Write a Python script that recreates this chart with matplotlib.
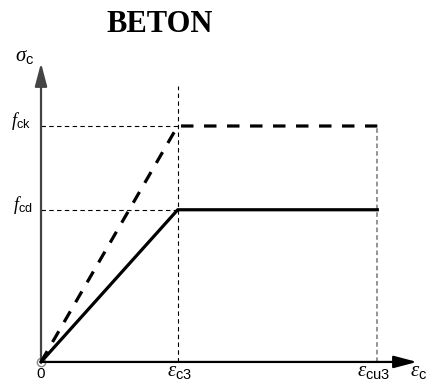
import matplotlib
matplotlib.use("Agg")
import matplotlib.pyplot as plt

# schematic concrete stress-strain diagram (EC2 bilinear)
strain_pts = [0.0, 1.0, 2.46]          # 0, eps_c3, eps_cu3
fck = 1.0
fcd = 0.645
strain_ticks = ["$0$", r"$\varepsilon_{\mathsf{c3}}$", r"$\varepsilon_{\mathsf{cu3}}$"]
stress_ticks = [r"$f_{\mathsf{ck}}$", r"$f_{\mathsf{cd}}$"]

plt.rcParams["mathtext.fontset"] = "custom"
plt.rcParams["mathtext.it"] = "Liberation Serif:italic"
plt.rcParams["mathtext.rm"] = "Liberation Sans"
plt.rcParams["mathtext.sf"] = "Liberation Sans"

fig = plt.figure(figsize=(4.26, 3.82), dpi=100)
ax = fig.add_axes([0, 0, 1, 1])
ax.set_xlim(-0.300, 2.816)
ax.set_ylim(-0.085, 1.534)
ax.axis("off")

eps0, eps_c3, eps_cu3 = strain_pts

# axes with arrows
arr = dict(arrowstyle="-|>,head_length=1.4,head_width=0.37", mutation_scale=10,
           shrinkA=0, shrinkB=0)
ax.annotate("", xy=(2.75, 0), xytext=(0, 0),
            arrowprops=dict(arr, color="black", lw=1.6))
ax.annotate("", xy=(0, 1.267), xytext=(0, 0),
            arrowprops=dict(arr, color="#444444", lw=1.6))
ax.plot([0], [0], "o", ms=6, mfc="white", mec="#888888", mew=1, zorder=1)

# guide lines
thin = dict(color="black", lw=0.8, dashes=(4, 3))
ax.plot([0, eps_c3], [fck, fck], **thin)
ax.plot([0, eps_c3], [fcd, fcd], **thin)
ax.plot([eps_c3, eps_c3], [0, 1.17], **thin)
ax.plot([eps_cu3, eps_cu3], [0, fck], color="#777777", lw=1.1, dashes=(3, 2))

# characteristic (dashed) and design (solid) curves
ax.plot(strain_pts, [0, fck, fck], color="black", lw=2.3, dashes=(3.9, 3.3),
        solid_capstyle="butt", zorder=3)
ax.plot(strain_pts, [0, fcd, fcd], color="black", lw=2.3, zorder=3)

# labels
ax.text(0.87, 1.432, "BETON", ha="center", va="center", fontsize=22,
        fontweight="bold", family="Liberation Serif")
ax.text(-0.117, 1.297, r"$\sigma_{\mathsf{c}}$", ha="center", va="center", fontsize=15)
ax.text(-0.075, fck + 0.02, stress_ticks[0], ha="right", va="center", fontsize=13)
ax.text(-0.065, fcd + 0.02, stress_ticks[1], ha="right", va="center", fontsize=13)
ax.text(eps0, -0.081, strain_ticks[0], ha="center", va="bottom", fontsize=11)
ax.text(eps_c3 + 0.01, -0.081, strain_ticks[1], ha="center", va="bottom", fontsize=15)
ax.text(eps_cu3 - 0.03, -0.081, strain_ticks[2], ha="center", va="bottom", fontsize=15)
ax.text(2.70, -0.081, r"$\varepsilon_{\mathsf{c}}$", ha="left", va="bottom", fontsize=15)

fig.savefig("out.png", dpi=100)
